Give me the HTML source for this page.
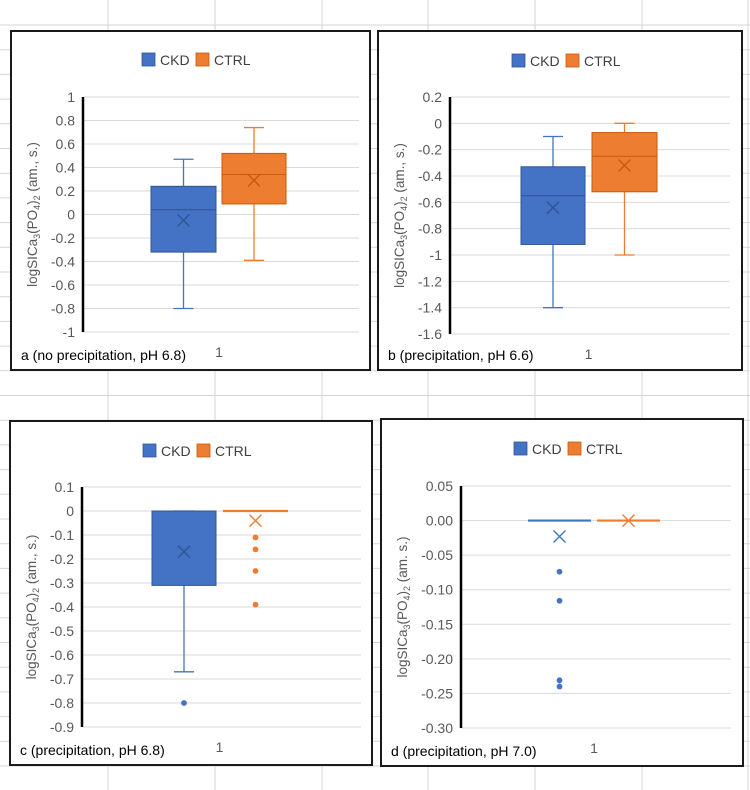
<!DOCTYPE html>
<html><head><meta charset="utf-8">
<style>
html,body{margin:0;padding:0;background:#fff;}
svg{display:block;font-family:"Liberation Sans",sans-serif;}
</style></head>
<body>
<svg id="chart" width="750" height="790" viewBox="0 0 750 790" xmlns="http://www.w3.org/2000/svg"></svg>
<script>
// ---- Data ----
// stats order: min, q1, median, q3, max, mean
const ckdStatsA = [-0.8, -0.32, 0.04, 0.24, 0.47, -0.05];
const ctrlStatsA = [-0.39, 0.09, 0.34, 0.52, 0.74, 0.29];
const ckdOutliersA = [];
const ctrlOutliersA = [];
const ticksA = [1, 0.8, 0.6, 0.4, 0.2, 0, -0.2, -0.4, -0.6, -0.8, -1];
const tickLabelsA = ["1","0.8","0.6","0.4","0.2","0","-0.2","-0.4","-0.6","-0.8","-1"];

const ckdStatsB = [-1.4, -0.92, -0.55, -0.33, -0.1, -0.64];
const ctrlStatsB = [-1.0, -0.52, -0.25, -0.07, 0, -0.32];
const ckdOutliersB = [];
const ctrlOutliersB = [];
const ticksB = [0.2, 0, -0.2, -0.4, -0.6, -0.8, -1, -1.2, -1.4, -1.6];
const tickLabelsB = ["0.2","0","-0.2","-0.4","-0.6","-0.8","-1","-1.2","-1.4","-1.6"];

const ckdStatsC = [-0.67, -0.31, 0, 0, 0, -0.17];
const ctrlStatsC = [0, 0, 0, 0, 0, -0.04];
const ckdOutliersC = [-0.8];
const ctrlOutliersC = [-0.11, -0.16, -0.25, -0.39];
const ticksC = [0.1, 0, -0.1, -0.2, -0.3, -0.4, -0.5, -0.6, -0.7, -0.8, -0.9];
const tickLabelsC = ["0.1","0","-0.1","-0.2","-0.3","-0.4","-0.5","-0.6","-0.7","-0.8","-0.9"];

const ckdStatsD = [0, 0, 0, 0, 0, -0.023];
const ctrlStatsD = [0, 0, 0, 0, 0, 0];
const ckdOutliersD = [-0.074, -0.116, -0.231, -0.240];
const ctrlOutliersD = [];
const ticksD = [0.05, 0, -0.05, -0.10, -0.15, -0.20, -0.25, -0.30];
const tickLabelsD = ["0.05","0.00","-0.05","-0.10","-0.15","-0.20","-0.25","-0.30"];

const seriesNames = ["CKD", "CTRL"];
const categories = ["1"];

// ---- Layout ----
const NS = "http://www.w3.org/2000/svg";
const svg = document.getElementById("chart");
const BLUE = "#4472C4", BLUE_D = "#2F5597", ORANGE = "#ED7D31", ORANGE_D = "#C55A11";
function mk(tag, attrs, parent) {
  const e = document.createElementNS(NS, tag);
  for (const k in attrs) e.setAttribute(k, attrs[k]);
  (parent || svg).appendChild(e);
  return e;
}

const bg = mk("g", {});


[108, 215, 322, 428, 535, 642, 748].forEach(x => mk("line", {x1:x, y1:0, x2:x, y2:790, stroke:"#d6d6d6", "stroke-width":1}, bg));
for (let y = 25; y < 790; y += 24.7) mk("line", {x1:0, y1:y, x2:750, y2:y, stroke:"#d6d6d6", "stroke-width":1}, bg);

const panels = [
  {id:"a", box:[11,31,359,339], axisX:83, yTop:97, yBot:332, gridR:359, ckdX:[151,216], ctrlX:[222,286],
   ckd:ckdStatsA, ctrl:ctrlStatsA, ckdOut:ckdOutliersA, ctrlOut:ctrlOutliersA, ticks:ticksA, labels:tickLabelsA,
   title:"a (no precipitation, pH 6.8)", yt:"(am., s.)", legX:142, legY:60},
  {id:"b", box:[378,31,364,339], axisX:450, yTop:97, yBot:334, gridR:730, ckdX:[521,585], ctrlX:[592,657],
   ckd:ckdStatsB, ctrl:ctrlStatsB, ckdOut:ckdOutliersB, ctrlOut:ctrlOutliersB, ticks:ticksB, labels:tickLabelsB,
   title:"b (precipitation, pH 6.6)", yt:"(am., s.)", legX:512, legY:61},
  {id:"c", box:[10,421,362,344], axisX:82, yTop:487, yBot:727, gridR:361, ckdX:[152,216], ctrlX:[223,288],
   ckd:ckdStatsC, ctrl:ctrlStatsC, ckdOut:ckdOutliersC, ctrlOut:ctrlOutliersC, ticks:ticksC, labels:tickLabelsC,
   title:"c (precipitation, pH 6.8)", yt:"(am., s.)", legX:143, legY:451},
  {id:"d", box:[381,419,362,347], axisX:461, yTop:486, yBot:728, gridR:731, ckdX:[528,591], ctrlX:[597,660],
   ckd:ckdStatsD, ctrl:ctrlStatsD, ckdOut:ckdOutliersD, ctrlOut:ctrlOutliersD, ticks:ticksD, labels:tickLabelsD,
   title:"d (precipitation, pH 7.0)", yt:"(am. s.)", legX:514, legY:449}
];

function drawBox(g, p, y, stats, outs, xr, fill, dark, name) {
  const [mn, q1, md, q3, mx, mean] = stats;
  const cx = (xr[0] + xr[1]) / 2, cw = 10;
  const grp = mk("g", {}, g);
  
  
  mk("line", {x1:cx, y1:y(q3), x2:cx, y2:y(mx), stroke:fill, "stroke-width":1.3}, grp);
  mk("line", {x1:cx, y1:y(q1), x2:cx, y2:y(mn), stroke:fill, "stroke-width":1.3}, grp);
  mk("line", {x1:cx-cw, y1:y(mx), x2:cx+cw, y2:y(mx), stroke:fill, "stroke-width":1.3}, grp);
  mk("line", {x1:cx-cw, y1:y(mn), x2:cx+cw, y2:y(mn), stroke:fill, "stroke-width":1.3}, grp);
  const h = y(q1) - y(q3);
  if (h > 0.5) {
    mk("rect", {x:xr[0], y:y(q3), width:xr[1]-xr[0], height:h, fill:fill, stroke:dark, "stroke-width":1}, grp);
    mk("line", {x1:xr[0], y1:y(md), x2:xr[1], y2:y(md), stroke:dark, "stroke-width":1}, grp);
  } else {
    mk("line", {x1:xr[0], y1:y(md), x2:xr[1], y2:y(md), stroke:fill, "stroke-width":2.2}, grp);
  }
  const my = y(mean), s = 6;
  const mc = h > 0.5 ? dark : fill;
  mk("path", {d:`M${cx-s},${my-s}L${cx+s},${my+s}M${cx-s},${my+s}L${cx+s},${my-s}`, stroke:mc, "stroke-width":1.4, fill:"none"}, grp);
  outs.forEach(v => {
    const c = mk("circle", {cx:cx, cy:y(v), r:2.9, fill:fill}, grp);
    
    
  });
}

panels.forEach(p => {
  const g = mk("g", {});
  
  
  const [bx, by, bw, bh] = p.box;
  mk("rect", {x:bx, y:by, width:bw, height:bh, fill:"#fff", stroke:"#1a1a1a", "stroke-width":2}, g);
  const tmax = p.ticks[0], tmin = p.ticks[p.ticks.length-1];
  const y = v => p.yTop + (tmax - v) / (tmax - tmin) * (p.yBot - p.yTop);
  p.ticks.forEach((t, i) => {
    const gl = mk("line", {x1:p.axisX, y1:y(t), x2:p.gridR, y2:y(t), stroke:"#d9d9d9", "stroke-width":1}, g);
    
    
    const tl = mk("text", {x:p.axisX-8, y:y(t)+5, "text-anchor":"end", "font-size":14, fill:"#595959"}, g);
    tl.textContent = p.labels[i];
    
    
  });
  const ax = mk("line", {x1:p.axisX, y1:p.yTop, x2:p.axisX, y2:p.yBot, stroke:"#000", "stroke-width":2.5}, g);
  
  
  const ty = (p.yTop + p.yBot) / 2, tx = bx + 26;
  const yt = mk("text", {x:0, y:0, transform:`translate(${tx},${ty}) rotate(-90)`, "text-anchor":"middle", "font-size":13.5, fill:"#595959"}, g);
  
  
  yt.innerHTML = 'logSICa<tspan font-size="9" dy="3">3</tspan><tspan dy="-3">(PO</tspan><tspan font-size="9" dy="3">4</tspan><tspan dy="-3">)</tspan><tspan font-size="9" dy="3">2</tspan><tspan dy="-3"> ' + p.yt + '</tspan>';
  const xl = mk("text", {x:(p.ckdX[1]+p.ctrlX[0])/2, y:p.yBot+25, "text-anchor":"middle", "font-size":14, fill:"#595959"}, g);
  xl.textContent = categories[0];
  
  
  const cap = mk("text", {x:bx+10, y:by+bh-10, "font-size":14, fill:"#000"}, g);
  cap.textContent = p.title;
  
  
  const lg = mk("g", {}, g);
  
  
  const e1 = mk("g", {}, lg);
  
  
  mk("rect", {x:p.legX, y:p.legY-7, width:13, height:13, fill:BLUE, stroke:BLUE_D, "stroke-width":0.8}, e1);
  const t1 = mk("text", {x:p.legX+18, y:p.legY+5, "font-size":14, fill:"#404040"}, e1);
  t1.textContent = seriesNames[0];
  const e2 = mk("g", {}, lg);
  
  
  mk("rect", {x:p.legX+54, y:p.legY-7, width:13, height:13, fill:ORANGE, stroke:ORANGE_D, "stroke-width":0.8}, e2);
  const t2 = mk("text", {x:p.legX+72, y:p.legY+5, "font-size":14, fill:"#404040"}, e2);
  t2.textContent = seriesNames[1];
  drawBox(g, p, y, p.ckd, p.ckdOut, p.ckdX, BLUE, BLUE_D, 'ckd');
  drawBox(g, p, y, p.ctrl, p.ctrlOut, p.ctrlX, ORANGE, ORANGE_D, 'ctrl');
});
</script>
</body></html>
